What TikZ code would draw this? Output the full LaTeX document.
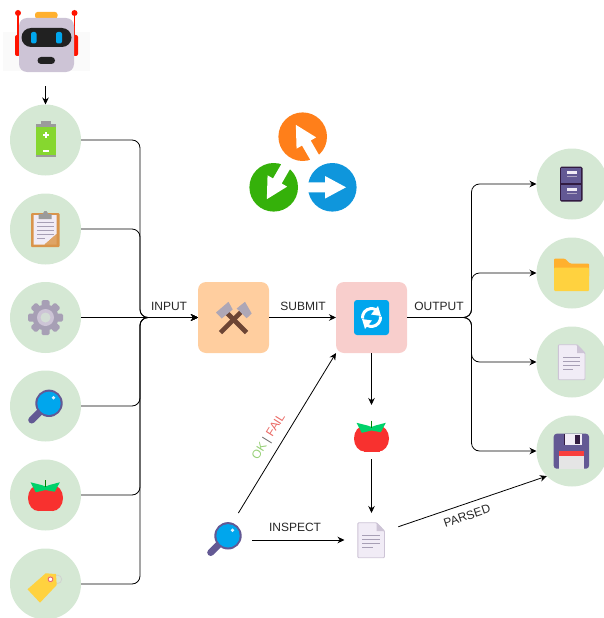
\documentclass[tikz,border=0pt]{standalone}
\usepackage{fontspec}
\setmainfont{Liberation Sans}
\usetikzlibrary{arrows.meta}
\definecolor{bubgreen}{HTML}{D5E8D4}
\definecolor{smithbg}{HTML}{FFCE9F}
\definecolor{refreshbg}{HTML}{F8CECC}
\definecolor{icpurple}{HTML}{635994}
\definecolor{icdark}{HTML}{321B41}
\definecolor{iclilac}{HTML}{CDC4D6}
\definecolor{icpale}{HTML}{F1ECF6}
\definecolor{icline}{HTML}{A79FB5}
\definecolor{icblue}{HTML}{00A6ED}
\definecolor{icred}{HTML}{F8312F}
\definecolor{icleaf}{HTML}{00D26A}
\definecolor{icamber}{HTML}{FFB02E}
\definecolor{icyellow}{HTML}{FFD23F}
\definecolor{icgrey}{HTML}{9B9B9B}
\definecolor{icbrown}{HTML}{6D4534}
\definecolor{icboard}{HTML}{D9944B}
\definecolor{icbatt}{HTML}{86D72F}
\definecolor{okgreen}{HTML}{97D077}
\definecolor{failred}{HTML}{EA6B66}
\definecolor{logoorange}{HTML}{FF7F1A}
\definecolor{logogreen}{HTML}{35B10A}
\definecolor{logoblue}{HTML}{0F96DC}
\tikzset{
  inbub/.style={circle,fill=bubgreen,minimum size=71pt,inner sep=0pt,outer sep=0pt},
  stepbox/.style={rectangle,rounded corners=8pt,minimum size=71pt,inner sep=0pt,outer sep=0pt},
  iconspot/.style={rectangle,minimum width=#1,minimum height=#1,inner sep=0pt,outer sep=0pt},
  wire/.style={draw=black,line width=0.8pt,rounded corners=8pt,-{Stealth[length=7pt,width=6.5pt]}},
  lbl/.style={inner sep=0pt,font=\fontsize{12}{14}\selectfont,text=black!85},
  pics/icbattery/.style={code={
    \fill[icgrey] (-5,-19) rectangle (5,-16);
    \fill[icgrey] (-10,-16.5) rectangle (10,17);
    \fill[icbatt] (-10,-13) rectangle (10,15);
    \fill[white] (-3,-6) rectangle (3,-4);
    \fill[white] (-1,-8) rectangle (1,-2);
    \fill[white] (-3,10) rectangle (3,12);
  }},
  pics/icclip/.style={code={
    \fill[icboard,rounded corners=1pt] (-14.5,-16) rectangle (14,18);
    \fill[icpale] (-12,-14) -- (11,-14) -- (11,5) -- (-1,15.5) -- (-12,15.5) -- cycle;
    \fill[icboard!85!white] (11,5) -- (11,15.5) -- (-1,15.5) -- cycle;
    \foreach \yy in {-7,-3,1,5} \fill[icline] (-9,\yy) rectangle (8,\yy+1);
    \fill[icline] (-9,9) rectangle (-1,10);
    \fill[icgrey] (-7,-15) -- (-3,-15) -- (-1,-18) -- (1,-18) -- (3,-15) -- (6,-15) -- (6,-10) -- (-7,-10) -- cycle;
  }},
  pics/icgear/.style={code={
    \foreach \a in {0,45,...,315}
      \fill[icline,rotate=\a,rounded corners=1.5pt] (-4,-17.5) rectangle (4,0);
    \fill[icline] (0,0) circle (13pt);
    \fill[iclilac] (0,0) circle (8.5pt);
    \fill[bubgreen!70!iclilac] (0,0) circle (5pt);
  }},
  pics/iclens/.style={code={
    \draw[icpurple,line width=7pt,line cap=round] (-5.5,5.7) -- (-13.8,14);
    \fill[icpurple] (3.5,-2.7) circle (13.7pt);
    \fill[icblue] (3.5,-2.7) circle (11.7pt);
    \fill[white!85!icblue] (8,-8.3) circle (1.8pt);
  }},
  pics/ictomato/.style={code={
    \fill[icred] (-7,3) ellipse (10.5pt and 13pt);
    \fill[icred] (7,3) ellipse (10.5pt and 13pt);
    \fill[icred] (-8,-8) rectangle (8,16);
    \fill[icleaf] (-15,-12.7) -- (-4,-10) -- (0,-8.5) -- (4,-10) -- (14.3,-12.7) -- (9.3,-3.3) -- (0,-5) -- (-9.7,-2.7) -- cycle;
    \draw[green!50!black,line width=1.4pt] (0,-15) -- (0,-8);
  }},
  pics/ictag/.style={code={
    \draw[black!18,line width=0.8pt] (12,-4.7) circle (4.2pt);
    \fill[icyellow] (-18,5.3) -- (0.2,-10.7) -- (10.5,-10) -- (11.2,1) -- (-5.5,18.7) -- cycle;
    \fill[white] (5,-4.7) circle (2.8pt);
    \draw[failred,line width=1pt] (5,-4.7) circle (2.4pt);
  }},
  pics/iccabinet/.style={code={
    \fill[icdark,rounded corners=1.5pt] (-12,-17.3) rectangle (10.5,17.7);
    \fill[icpurple] (-10.7,-16) rectangle (9.2,-0.7);
    \fill[icpurple] (-10.7,1) rectangle (9.2,16.4);
    \foreach \yy in {-13,4} {
      \fill[icpale] (-5,\yy) rectangle (4.5,\yy+3);
      \fill[iclilac!70!icpurple] (-5,\yy+5) rectangle (4.5,\yy+6);
    }
  }},
  pics/icfolder/.style={code={
    \fill[icamber,rounded corners=1pt] (-18,4) -- (-18,-14.3) -- (-7,-14.3) -- (-2,-9.5) -- (17,-9.5) -- (17,4) -- cycle;
    \fill[icyellow,rounded corners=1pt] (-18,-5.3) rectangle (17,18);
  }},
  pics/icdoc/.style={code={
    \fill[icpale,draw=iclilac,line width=0.9pt,rounded corners=1pt] (-13.7,-17.3) -- (5,-17.3) -- (13,-9) -- (13,17.7) -- (-13.7,17.7) -- cycle;
    \fill[iclilac] (5,-17.3) -- (13,-9) -- (5,-9) -- cycle;
    \foreach \yy in {-5,-0.7,3.3} \fill[icline] (-9.5,\yy) rectangle (8.3,\yy+1);
    \fill[icline] (-9.5,7.3) rectangle (1,8.3);
  }},
  pics/icfloppy/.style={code={
    \fill[icpurple,rounded corners=3pt] (-18.3,-17.3) rectangle (17,17.7);
    \fill[icpale] (-7.3,-17.3) rectangle (9.5,-5.7);
    \fill[icdark] (3.3,-16) rectangle (7.8,-7);
    \fill[icdark] (-7.3,-17.3) rectangle (-8.3,-5.7);
    \fill[icred!90!pink] (-13,0) rectangle (12,4.5);
    \fill[black!10] (-13,4.5) rectangle (12,17.7);
  }},
  pics/ichammers/.style={code={
    \draw[icbrown,line width=4.6pt] (-13,15) -- (9,-7);
    \draw[icbrown,line width=4.6pt] (13,15) -- (-9,-7);
    \fill[iclilac!85!black] (-17.5,-5) -- (-5,-15.7) -- (-0.8,-8) -- (-11.8,1) -- cycle;
    \fill[iclilac!85!black] (3.2,-9) -- (11.5,-15.7) -- (18.2,-4) -- (13.2,0.7) -- cycle;
  }},
  pics/icsync/.style={code={
    \fill[icblue,rounded corners=3pt] (-17.5,-17.5) rectangle (17.5,17.5);
    \begin{scope}[y=1pt]
      \draw[white,line width=3pt] (-9,-1) arc[start angle=186,end angle=60,radius=9];
      \fill[white] (6.5,11.5) -- (9.5,1.5) -- (-0.5,3) -- cycle;
      \draw[white,line width=3pt] (9,1) arc[start angle=6,end angle=-120,radius=9];
      \fill[white] (-6.5,-11.5) -- (-9.5,-1.5) -- (0.5,-3) -- cycle;
    \end{scope}
  }}
}
\begin{document}
\begin{tikzpicture}[x=1pt,y=-1pt]
\useasboundingbox (0,0) rectangle (604,618);

% robot
\fill[black!2] (3,32) rectangle (90,71);
\node[iconspot=54pt] (robot) at (45.5,45) {};
\fill[red!85!orange,rounded corners=2pt] (15,35) rectangle (20,56);
\fill[red!85!orange,rounded corners=2pt] (73,35) rectangle (78,56);
\draw[red!85!orange,line width=1.6pt] (18,13) -- (18,36);
\draw[red!85!orange,line width=1.6pt] (74.5,13) -- (74.5,36);
\fill[red!85!orange] (18,13) circle (3pt);
\fill[red!85!orange] (74.5,13) circle (3pt);
\fill[icamber,rounded corners=2.5pt] (35,12) rectangle (57.5,18.5);
\fill[iclilac,rounded corners=8pt] (19,18) rectangle (74,72);
\fill[black!87,rounded corners=9.5pt] (21.5,28) rectangle (71.5,47);
\fill[icblue,rounded corners=2pt] (31,32) rectangle (36.5,43.5);
\fill[icblue,rounded corners=2pt] (56,32) rectangle (62,43.5);
\fill[black!87,rounded corners=3.5pt] (37.5,57) rectangle (55,64);

% logo
\foreach \ang/\col/\cx/\cy in {120/logoorange/302.7/136.7,240/logogreen/273.7/187.3,0/logoblue/332.3/187.3} {
  \fill[\col] (\cx,\cy) circle (24.3pt);
  \fill[white,shift={(\cx,\cy)},rotate=\ang] (13.7,0) -- (-7.3,11.3) -- (-7.3,5) -- (-25,5) -- (-25,-5) -- (-7.3,-5) -- (-7.3,-11.3) -- cycle;
}

% inputs
\node[inbub] (battery) at (45.5,140) {};
\node[inbub] (clipboard) at (45.5,229) {};
\node[inbub] (gear) at (45.5,317.5) {};
\node[inbub] (lens) at (45.5,406) {};
\node[inbub] (tomato) at (45.5,495) {};
\node[inbub] (tag) at (45.5,584) {};
\pic at (battery) {icbattery};
\pic at (clipboard) {icclip};
\pic at (gear) {icgear};
\pic at (lens) {iclens};
\pic at (tomato) {ictomato};
\pic at (tag) {ictag};

% steps
\node[stepbox,fill=smithbg] (smith) at (233.5,317.5) {};
\node[stepbox,fill=refreshbg] (refresh) at (371.5,317.5) {};
\pic at (smith) {ichammers};
\pic at (refresh) {icsync};
\coordinate (hubin) at (140,317.5);
\coordinate (hubout) at (471.5,317.5);

% outputs
\node[inbub] (cabinet) at (572,184) {};
\node[inbub] (folder) at (572,273) {};
\node[inbub] (report) at (572,362) {};
\node[inbub] (floppy) at (572,451) {};
\pic at (cabinet) {iccabinet};
\pic at (folder) {icfolder};
\pic at (report) {icdoc};
\pic at (floppy) {icfloppy};

% inspect row
\node[iconspot=31pt,minimum width=35pt] (fruit) at (371.5,435.5) {};
\node[iconspot=36pt,minimum width=29pt] (parsedoc) at (371.5,540) {};
\node[iconspot=36pt] (inspector) at (224.5,540) {};
\pic at (fruit) {ictomato};
\pic at (parsedoc) {icdoc};
\pic at ([yshift=1.5pt]inspector) {iclens};

% connectors
\draw[wire] (robot.south) [shorten <=14pt] -- (battery.north);
\draw[wire] (battery.east) -| (hubin) -- (smith.west);
\draw[wire] (clipboard.east) -| (hubin) -- (smith.west);
\draw[wire] (gear.east) -- (smith.west);
\draw[wire] (lens.east) -| (hubin) -- (smith.west);
\draw[wire] (tomato.east) -| (hubin) -- (smith.west);
\draw[wire] (tag.east) -| (hubin) -- (smith.west);
\draw[wire] (smith.east) -- (refresh.west);
\draw[wire] (refresh.east) -- (hubout) |- (cabinet.west);
\draw[wire] (refresh.east) -- (hubout) |- (folder.west);
\draw[wire] (refresh.east) -- (hubout) |- (report.west);
\draw[wire] (refresh.east) -- (hubout) |- (floppy.west);
\draw[wire,shorten >=15pt] (refresh.south) -- (fruit.north);
\draw[wire,shorten <=8pt,shorten >=9pt] (fruit.south) -- (parsedoc.north);
\draw[wire,shorten <=10.5pt] (inspector.65) -- (refresh.south west);
\draw[wire,shorten <=9.5pt,shorten >=12.5pt] (inspector.east) -- (parsedoc.west);
\draw[wire,shorten <=13pt] (parsedoc.32) -- (floppy.south west);

% labels
\node[lbl] (inputlbl) at (169,306) {INPUT};
\node[lbl] (submitlbl) at (303,306) {SUBMIT};
\node[lbl] (outputlbl) at (439,306) {OUTPUT};
\node[lbl] (inspectlbl) at (295,527) {INSPECT};
\node[lbl,rotate=18.7] (parsedlbl) at (467,516) {PARSED};
\node[lbl,rotate=58] (verdictlbl) at (269,437) {\textcolor{okgreen}{OK} \textcolor{black!60}{|} \textcolor{failred}{FAIL}};
\end{tikzpicture}
\end{document}
